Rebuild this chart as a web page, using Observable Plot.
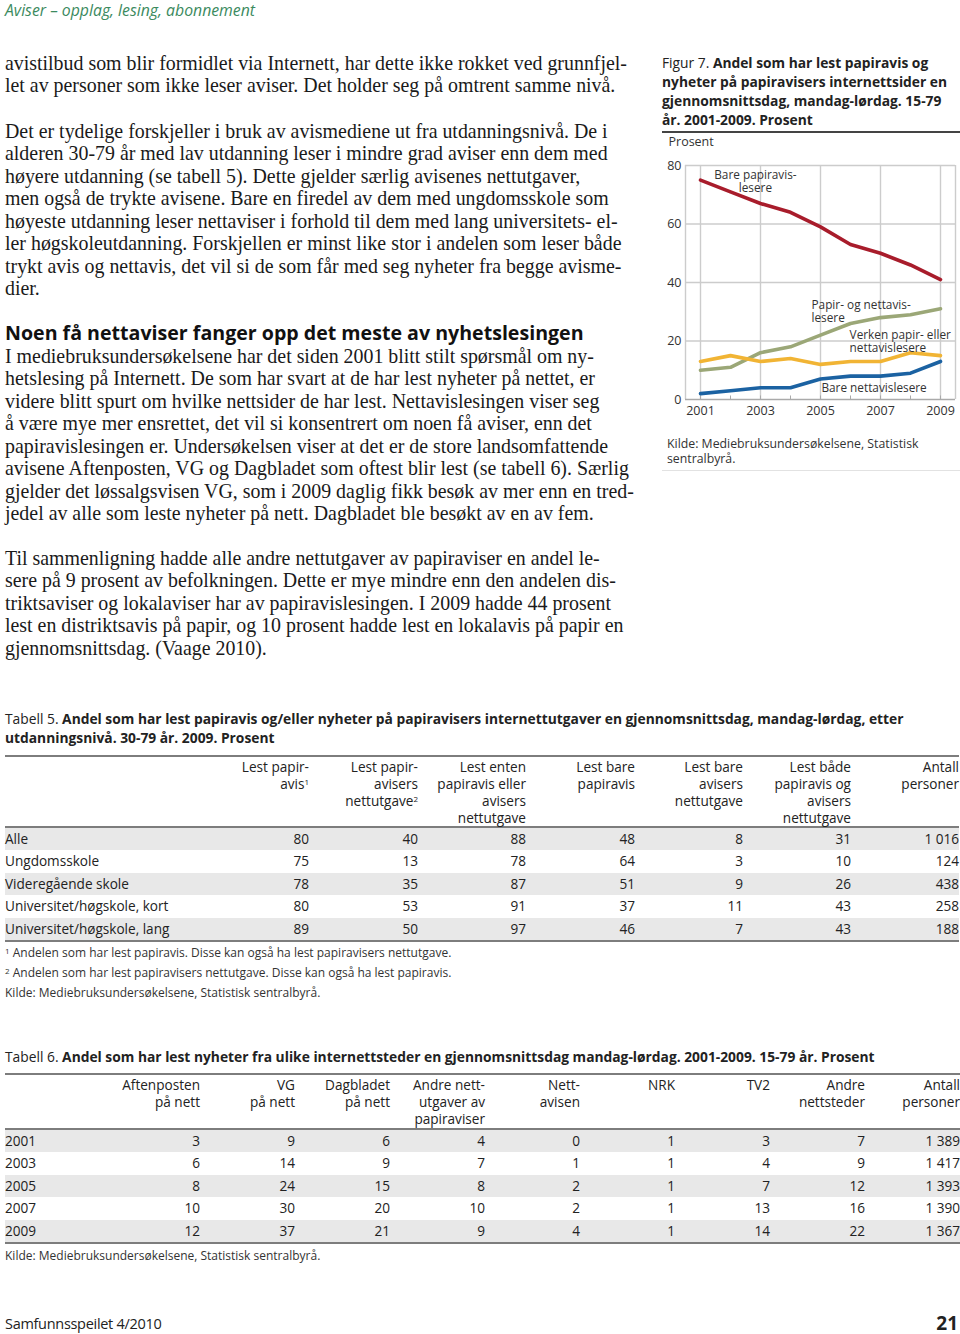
<!DOCTYPE html>
<html><head><meta charset="utf-8">
<script src="https://cdn.jsdelivr.net/npm/d3@7"></script>
<script src="https://cdn.jsdelivr.net/npm/@observablehq/plot@0.6"></script>
<style>
html,body{margin:0;padding:0;background:#fff;}
body{width:960px;height:1334px;position:relative;overflow:hidden;font-family:"Open Sans",sans-serif;color:#222;}
.abs{position:absolute;}
.serif{font-family:"Liberation Serif",serif;font-size:19.9px;color:#1a1a1a;left:5px;}
.serif div{height:22.5px;line-height:22.5px;white-space:nowrap;}
.hdr{left:5px;top:0;font-size:15.8px;line-height:20px;font-style:italic;color:#3b8a5e;}
.h2{left:5px;top:321.75px;font-size:19.6px;line-height:22.5px;font-weight:700;color:#111;white-space:nowrap;}
.figtitle{left:662px;top:52.5px;font-size:13.8px;line-height:19px;color:#222;white-space:nowrap;}
.figtitle b{font-weight:700;}
.cap{font-size:13.8px;line-height:19px;white-space:nowrap;left:5px;}
.small{font-size:12px;line-height:20px;white-space:nowrap;left:5px;color:#333;}
table{border-collapse:collapse;font-size:13.6px;color:#222;table-layout:fixed;}
th{font-weight:400;text-align:right;vertical-align:top;line-height:17px;padding:0;white-space:nowrap;}
td{text-align:right;padding:0;height:22.4px;line-height:22.4px;white-space:nowrap;}
td:first-child,th:first-child{text-align:left;}
tr.shade td{background:#e8e8e8;}
thead tr{border-top:2px solid #7d7d7d;border-bottom:2px solid #7d7d7d;}
tbody{border-bottom:2px solid #7d7d7d;}
sup{font-size:8px;vertical-align:top;position:relative;top:-2px;}
</style></head>
<body>
<div class="abs hdr">Aviser – opplag, lesing, abonnement</div>

<div class="abs serif" style="top:51.75px">
<div>avistilbud som blir formidlet via Internett, har dette ikke rokket ved grunnfjel-</div>
<div>let av personer som ikke leser aviser. Det holder seg på omtrent samme nivå.</div>
</div>
<div class="abs serif" style="top:119.75px">
<div>Det er tydelige forskjeller i bruk av avismediene ut fra utdanningsnivå. De i</div>
<div>alderen 30-79 år med lav utdanning leser i mindre grad aviser enn dem med</div>
<div>høyere utdanning (se tabell 5). Dette gjelder særlig avisenes nettutgaver,</div>
<div>men også de trykte avisene. Bare en firedel av dem med ungdomsskole som</div>
<div>høyeste utdanning leser nettaviser i forhold til dem med lang universitets- el-</div>
<div>ler høgskoleutdanning. Forskjellen er minst like stor i andelen som leser både</div>
<div>trykt avis og nettavis, det vil si de som får med seg nyheter fra begge avisme-</div>
<div>dier.</div>
</div>
<div class="abs h2">Noen få nettaviser fanger opp det meste av nyhetslesingen</div>
<div class="abs serif" style="top:344.75px">
<div>I mediebruksundersøkelsene har det siden 2001 blitt stilt spørsmål om ny-</div>
<div>hetslesing på Internett. De som har svart at de har lest nyheter på nettet, er</div>
<div>videre blitt spurt om hvilke nettsider de har lest. Nettavislesingen viser seg</div>
<div>å være mye mer ensrettet, det vil si konsentrert om noen få aviser, enn det</div>
<div>papiravislesingen er. Undersøkelsen viser at det er de store landsomfattende</div>
<div>avisene Aftenposten, VG og Dagbladet som oftest blir lest (se tabell 6). Særlig</div>
<div>gjelder det løssalgsvisen VG, som i 2009 daglig fikk besøk av mer enn en tred-</div>
<div>jedel av alle som leste nyheter på nett. Dagbladet ble besøkt av en av fem.</div>
</div>
<div class="abs serif" style="top:546.75px">
<div>Til sammenligning hadde alle andre nettutgaver av papiraviser en andel le-</div>
<div>sere på 9 prosent av befolkningen. Dette er mye mindre enn den andelen dis-</div>
<div>triktsaviser og lokalaviser har av papiravislesingen. I 2009 hadde 44 prosent</div>
<div>lest en distriktsavis på papir, og 10 prosent hadde lest en lokalavis på papir en</div>
<div>gjennomsnittsdag. (Vaage 2010).</div>
</div>

<div class="abs figtitle">Figur 7. <b>Andel som har lest papiravis og</b><br><b>nyheter på papiravisers internettsider en</b><br><b>gjennomsnittsdag, mandag-lørdag. 15-79</b><br><b>år. 2001-2009. Prosent</b></div>
<div class="abs" style="left:662px;top:131px;width:298px;height:1.5px;background:#444"></div>
<div id="chart" class="abs" style="left:655px;top:135px"></div>
<div class="abs" style="left:667px;top:437px;font-size:12.3px;line-height:14.5px;color:#333;white-space:nowrap">Kilde: Mediebruksundersøkelsene, Statistisk<br>sentralbyrå.</div>
<div class="abs" style="left:662px;top:470px;width:298px;height:1px;background:#e2e2e2"></div>

<div class="abs cap" style="top:708.5px">Tabell 5. <b>Andel som har lest papiravis og/eller nyheter på papiravisers internettutgaver en gjennomsnittsdag, mandag-lørdag, etter</b><br><b>utdanningsnivå. 30-79 år. 2009. Prosent</b></div>
<div id="t5" class="abs" style="left:5px;top:755px"></div>
<div class="abs small" style="top:943px"><sup>1</sup> Andelen som har lest papiravis. Disse kan også ha lest papiravisers nettutgave.<br><sup>2</sup> Andelen som har lest papiravisers nettutgave. Disse kan også ha lest papiravis.<br>Kilde: Mediebruksundersøkelsene, Statistisk sentralbyrå.</div>

<div class="abs cap" style="top:1046.5px">Tabell 6. <b>Andel som har lest nyheter fra ulike internettsteder en gjennomsnittsdag mandag-lørdag. 2001-2009. 15-79 år. Prosent</b></div>
<div id="t6" class="abs" style="left:5px;top:1073px"></div>
<div class="abs small" style="top:1246px">Kilde: Mediebruksundersøkelsene, Statistisk sentralbyrå.</div>

<div class="abs" style="left:5px;top:1313px;font-size:14.5px;line-height:22px;color:#222;letter-spacing:-0.3px">Samfunnsspeilet 4/2010</div>
<div class="abs" style="right:2px;top:1311px;font-size:19px;line-height:24px;font-weight:700;color:#222">21</div>

<script>
// ---- Figure 7 data ----
const years = [2001, 2002, 2003, 2004, 2005, 2006, 2007, 2008, 2009];
const seriesNames = ["Bare papiravislesere", "Papir- og nettavislesere", "Verken papir- eller nettavislesere", "Bare nettavislesere"];
const barePapiravis = [75, 71, 67, 64, 59, 53, 50, 46, 41];
const papirOgNett = [10, 11, 16, 18, 22, 26, 28, 29, 31];
const verken = [13, 15, 13, 14, 12, 13, 13, 16, 15];
const bareNett = [2, 3, 4, 4, 7, 8, 8, 9, 13];
const seriesColors = ["#a81c2b", "#9ba777", "#f1b434", "#1b62a2"];
const yTicks = [0, 20, 40, 60, 80];
const xTickYears = [2001, 2003, 2005, 2007, 2009];
const labelText = ["Bare papiravis-\nlesere", "Papir- og nettavis-\nlesere", "Verken papir- eller\nnettavislesere", "Bare nettavislesere"];
const labelYear = [2002.83, 2004.7, 2005.97, 2005.03];
const labelValue = [74.6, 30.3, 20.0, 4.1];
const labelAnchor = ["middle", "start", "start", "start"];

// ---- Table 5 data ----
const t5Headers = ["", "Lest papir-\navis¹", "Lest papir-\navisers\nnettutgave²", "Lest enten\npapiravis eller\navisers\nnettutgave", "Lest bare\npapiravis", "Lest bare\navisers\nnettutgave", "Lest både\npapiravis og\navisers\nnettutgave", "Antall\npersoner"];
const t5Rows = ["Alle", "Ungdomsskole", "Videregående skole", "Universitet/høgskole, kort", "Universitet/høgskole, lang"];
const t5LestPapiravis = [80, 75, 78, 80, 89];
const t5LestNett = [40, 13, 35, 53, 50];
const t5LestEnten = [88, 78, 87, 91, 97];
const t5BarePapir = [48, 64, 51, 37, 46];
const t5BareNett = [8, 3, 9, 11, 7];
const t5Begge = [31, 10, 26, 43, 43];
const t5Antall = ["1 016", "124", "438", "258", "188"];

// ---- Table 6 data ----
const t6Headers = ["", "Aftenposten\npå nett", "VG\npå nett", "Dagbladet\npå nett", "Andre nett-\nutgaver av\npapiraviser", "Nett-\navisen", "NRK", "TV2", "Andre\nnettsteder", "Antall\npersoner"];
const t6Years = ["2001", "2003", "2005", "2007", "2009"];
const t6Aftenposten = [3, 6, 8, 10, 12];
const t6VG = [9, 14, 24, 30, 37];
const t6Dagbladet = [6, 9, 15, 20, 21];
const t6AndreNettutg = [4, 7, 8, 10, 9];
const t6Nettavisen = [0, 1, 2, 2, 4];
const t6NRK = [1, 1, 1, 1, 1];
const t6TV2 = [3, 4, 7, 13, 14];
const t6AndreNettsteder = [7, 9, 12, 16, 22];
const t6Antall = ["1 389", "1 417", "1 393", "1 390", "1 367"];

// ---- Chart ----
const allSeries = [barePapiravis, papirOgNett, verken, bareNett];
const rows = allSeries.flatMap((vals, i) => vals.map((v, j) => ({year: years[j], value: v, series: seriesNames[i]})));
const labels = labelText.map((t, i) => ({text: t, year: labelYear[i], value: labelValue[i], anchor: labelAnchor[i]}));
const font = "'Open Sans', sans-serif";
const gridColor = "#cccccc";
const labelOpts = {x: "year", y: "value", text: "text", lineHeight: 1.1, fontSize: 11.8, fill: "#333", lineAnchor: "middle"};

const chart = Plot.plot({
  width: 305, height: 290,
  marginLeft: 30, marginRight: 5, marginTop: 30, marginBottom: 26,
  x: {domain: [2000.5, 2009.5]},
  y: {domain: [0, 80]},
  color: {domain: seriesNames, range: seriesColors},
  style: {fontFamily: font, fontSize: "12.5px", color: "#333", background: "transparent", overflow: "visible"},
  marks: [
    Plot.ruleY(yTicks.filter(d => d > 0), {stroke: gridColor, strokeWidth: 1.4}),
    Plot.ruleX(xTickYears, {y1: 0, y2: 80, stroke: gridColor, strokeWidth: 1.4}),
    Plot.ruleX([2000.5, 2009.5], {y1: 0, y2: 80, stroke: gridColor, strokeWidth: 1.4}),
    Plot.ruleX(years, {y1: 0, y2: 1.2, stroke: "#aaa", strokeWidth: 1}),
    Plot.ruleY([0], {stroke: "#aaa", strokeWidth: 1.4}),
    Plot.axisY({ticks: yTicks, tickSize: 0, tickPadding: 4, label: null, fill: "#333"}),
    Plot.axisX({ticks: xTickYears, tickSize: 0, tickPadding: 7, tickFormat: d => String(d), label: null, fill: "#333"}),
    Plot.text(["Prosent"], {frameAnchor: "top-left", dx: -17, dy: -28, textAnchor: "start", fill: "#333", fontSize: 12.5}),
    Plot.line(rows, {x: "year", y: "value", z: "series", stroke: "series", strokeWidth: 3.6, strokeLinejoin: "round", strokeLinecap: "round"}),
    Plot.text(labels.filter(d => d.anchor === "middle"), {...labelOpts, textAnchor: "middle"}),
    Plot.text(labels.filter(d => d.anchor === "start"), {...labelOpts, textAnchor: "start"})
  ]
});
document.getElementById("chart").appendChild(chart);

// ---- Tables ----
function buildTable(el, headers, colWidths, rowLabels, cols, headerHeight) {
  const t = document.createElement("table");
  t.style.width = colWidths.reduce((a, b) => a + b, 0) + "px";
  const cg = document.createElement("colgroup");
  colWidths.forEach(w => { const c = document.createElement("col"); c.style.width = w + "px"; cg.appendChild(c); });
  t.appendChild(cg);
  const th = document.createElement("thead");
  const hr = document.createElement("tr");
  headers.forEach(h => {
    const c = document.createElement("th");
    c.style.height = headerHeight + "px";
    c.style.paddingTop = "1px";
    c.innerHTML = h.replace(/¹/g, "<sup>1</sup>").replace(/²/g, "<sup>2</sup>").replace(/\n/g, "<br>");
    hr.appendChild(c);
  });
  th.appendChild(hr);
  t.appendChild(th);
  const tb = document.createElement("tbody");
  rowLabels.forEach((lab, i) => {
    const r = document.createElement("tr");
    if (i % 2 === 0) r.className = "shade";
    const c0 = document.createElement("td"); c0.textContent = lab; r.appendChild(c0);
    cols.forEach(col => { const c = document.createElement("td"); c.textContent = col[i]; r.appendChild(c); });
    tb.appendChild(r);
  });
  t.appendChild(tb);
  document.getElementById(el).appendChild(t);
}
buildTable("t5", t5Headers, [195, 109, 109, 108, 109, 108, 108, 108], t5Rows,
  [t5LestPapiravis, t5LestNett, t5LestEnten, t5BarePapir, t5BareNett, t5Begge, t5Antall], 68);
buildTable("t6", t6Headers, [100, 95, 95, 95, 95, 95, 95, 95, 95, 95], t6Years,
  [t6Aftenposten, t6VG, t6Dagbladet, t6AndreNettutg, t6Nettavisen, t6NRK, t6TV2, t6AndreNettsteder, t6Antall], 52);
</script>
</body></html>
